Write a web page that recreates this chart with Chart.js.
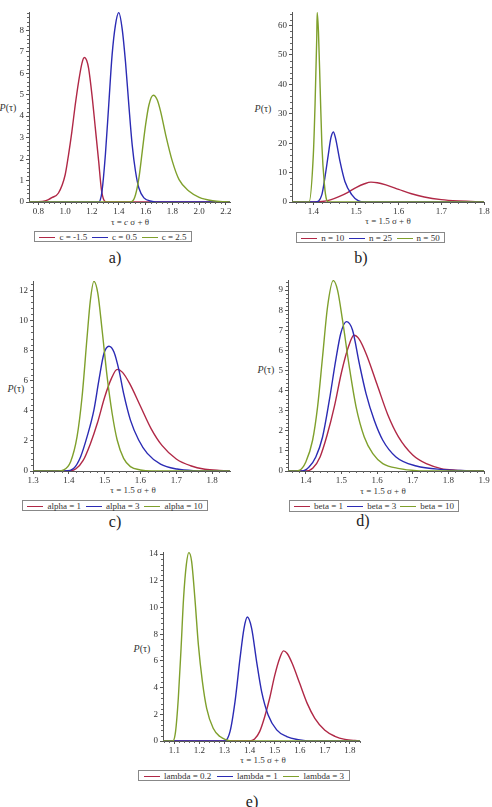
<!DOCTYPE html>
<html lang="en">
<head>
<meta charset="UTF-8" />
<title>P(tau) curves</title>
<script src="https://cdn.jsdelivr.net/npm/chart.js"></script>
<style>
  body { margin: 0; width: 492px; height: 807px; position: relative; background: #fff; font-family: "Liberation Serif", serif; overflow: hidden; }
  canvas { position: absolute; }
  .ylab, .xlab, .tag { position: absolute; transform: translate(-50%, -50%); white-space: nowrap; color: #333; }
  .ylab { font-size: 10px; }
  .xlab { font-size: 9px; }
  .tag { font-size: 16px; color: #222; }
  .legend { position: absolute; border: 1px solid #888; box-sizing: border-box; display: flex; align-items: center; justify-content: space-around; font-size: 9px; color: #333; padding: 0 2px; white-space: nowrap; }
  .legend .ln { display: inline-block; width: 16px; border-top: 1.5px solid; margin-right: 4px; vertical-align: middle; }
</style>
</head>
<body>

<div class="ylab" style="left:8px;top:107px"><i>P</i>(τ)</div>
<div class="ylab" style="left:263px;top:108px"><i>P</i>(τ)</div>
<div class="ylab" style="left:16px;top:388px"><i>P</i>(τ)</div>
<div class="ylab" style="left:266px;top:369px"><i>P</i>(τ)</div>
<div class="ylab" style="left:142px;top:648px"><i>P</i>(τ)</div>

<div class="xlab" style="left:130px;top:222px">τ = <i>c</i> σ + θ</div>
<div class="xlab" style="left:388px;top:221px">τ = 1.5 σ + θ</div>
<div class="xlab" style="left:133px;top:490px">τ = 1.5 σ + θ</div>
<div class="xlab" style="left:383px;top:491px">τ = 1.5 σ + θ</div>
<div class="xlab" style="left:263px;top:760px">τ = 1.5 σ + θ</div>

<div class="legend" id="leg-a" style="left:34px;top:231px;width:158px;height:11px"></div>
<div class="legend" id="leg-b" style="left:296px;top:232px;width:149px;height:11px"></div>
<div class="legend" id="leg-c" style="left:22px;top:500px;width:186px;height:11px"></div>
<div class="legend" id="leg-d" style="left:289px;top:500px;width:170px;height:12px"></div>
<div class="legend" id="leg-e" style="left:138px;top:770px;width:212px;height:11px"></div>

<div class="tag" style="left:115px;top:258px">a)</div>
<div class="tag" style="left:361px;top:258px">b)</div>
<div class="tag" style="left:115px;top:522px">c)</div>
<div class="tag" style="left:363px;top:521px">d)</div>
<div class="tag" style="left:252px;top:802px">e)</div>

<canvas id="ca"></canvas>
<canvas id="cb"></canvas>
<canvas id="cc"></canvas>
<canvas id="cd"></canvas>
<canvas id="ce"></canvas>

<script>
  const COLORS = ['#b02846', '#2b2bb4', '#7fa02c'];

  // the same base curve is the red one in b) to e)
  const baseX = [1.05, 1.40, 1.42, 1.44, 1.46, 1.48, 1.50, 1.52, 1.535, 1.55, 1.57, 1.60, 1.63, 1.66, 1.70, 1.74, 1.78, 1.82, 1.86, 1.90];
  const baseY = [0, 0, 0.15, 0.7, 1.8, 3.2, 4.9, 6.2, 6.75, 6.55, 5.8, 4.3, 2.8, 1.7, 0.8, 0.35, 0.12, 0.04, 0.01, 0];

  // a) c = -1.5, 0.5, 2.5
  const aLabels = ['c = -1.5', 'c = 0.5', 'c = 2.5'];
  const aRedX = [0.73, 0.8, 0.85, 0.875, 0.9, 0.95, 1.0, 1.025, 1.05, 1.075, 1.1, 1.125, 1.1425, 1.16, 1.175, 1.2, 1.225, 1.25, 1.27, 1.29, 1.31, 2.23];
  const aRedY = [0, 0.01, 0.05, 0.11, 0.2, 0.42, 1.27, 2.2, 3.28, 4.52, 5.6, 6.46, 6.73, 6.6, 6.22, 4.98, 3.44, 1.89, 0.6, 0.08, 0, 0];
  const aBlueX = [0.73, 1.25, 1.2625, 1.275, 1.3, 1.325, 1.35, 1.375, 1.4, 1.425, 1.45, 1.475, 1.5, 1.525, 1.55, 1.5875, 1.65, 1.7, 2.23];
  const aBlueY = [0, 0, 0.11, 0.5, 2.2, 4.52, 6.84, 8.24, 8.82, 8.08, 6.53, 4.52, 2.66, 1.42, 0.65, 0.19, 0.03, 0, 0];
  const aGreenX = [0.73, 1.48, 1.5, 1.525, 1.55, 1.575, 1.6, 1.625, 1.6575, 1.6875, 1.7125, 1.75, 1.8, 1.85, 1.925, 2.0, 2.1, 2.2, 2.23];
  const aGreenY = [0, 0, 0.03, 0.34, 1.11, 2.35, 3.59, 4.52, 4.97, 4.75, 4.21, 3.13, 1.89, 1.04, 0.5, 0.22, 0.06, 0.01, 0];

  // b) n = 10, 25, 50
  const bLabels = ['n = 10', 'n = 25', 'n = 50'];
  const bBlueX = [1.35, 1.405, 1.42, 1.427, 1.435, 1.441, 1.447, 1.452, 1.4625, 1.474, 1.49, 1.505, 1.52, 1.8];
  const bBlueY = [0, 0, 2.5, 8.2, 16, 21.7, 23.8, 21.7, 13.8, 7, 2.5, 0.45, 0, 0];
  const bGreenX = [1.35, 1.39, 1.4, 1.404, 1.408, 1.409, 1.412, 1.416, 1.42, 1.426, 1.431, 1.436, 1.8];
  const bGreenY = [0, 0, 16.1, 33, 55.7, 64.4, 58, 38.7, 19.5, 5.9, 0.8, 0, 0];

  // c) alpha = 1, 3, 10
  const cLabels = ['alpha = 1', 'alpha = 3', 'alpha = 10'];
  const cBlueX = [1.3, 1.39, 1.414, 1.433, 1.451, 1.47, 1.484, 1.498, 1.512, 1.526, 1.54, 1.553, 1.572, 1.595, 1.619, 1.656, 1.702, 1.749, 1.8, 1.85];
  const cBlueY = [0, 0, 0.18, 0.95, 2.28, 4.04, 6.03, 7.8, 8.29, 7.91, 6.7, 5.15, 3.38, 2.06, 1.17, 0.46, 0.13, 0.02, 0, 0];
  const cGreenX = [1.3, 1.37, 1.386, 1.405, 1.423, 1.437, 1.451, 1.46, 1.47, 1.481, 1.493, 1.507, 1.521, 1.535, 1.553, 1.572, 1.6, 1.63, 1.85];
  const cGreenY = [0, 0, 0.07, 0.62, 2.28, 4.93, 8.9, 11.3, 12.6, 11.8, 9.35, 6.25, 3.82, 2.06, 0.84, 0.29, 0.07, 0, 0];

  // d) beta = 1, 3, 10
  const dLabels = ['beta = 1', 'beta = 3', 'beta = 10'];
  const dBlueX = [1.35, 1.39, 1.409, 1.428, 1.447, 1.466, 1.484, 1.498, 1.514, 1.531, 1.55, 1.569, 1.592, 1.616, 1.653, 1.71, 1.785, 1.85, 1.9];
  const dBlueY = [0, 0, 0.2, 0.7, 1.69, 3.52, 5.51, 6.84, 7.43, 7.01, 5.35, 3.85, 2.52, 1.53, 0.7, 0.25, 0.07, 0.02, 0];
  const dGreenX = [1.35, 1.365, 1.381, 1.4, 1.419, 1.433, 1.447, 1.461, 1.477, 1.489, 1.503, 1.522, 1.541, 1.564, 1.588, 1.616, 1.663, 1.71, 1.76, 1.9];
  const dGreenY = [0, 0, 0.03, 0.45, 1.53, 3.19, 5.68, 8.17, 9.47, 9.0, 7.5, 5.18, 3.19, 1.69, 0.86, 0.37, 0.12, 0.02, 0, 0];

  // e) lambda = 0.2, 1, 3
  const eLabels = ['lambda = 0.2', 'lambda = 1', 'lambda = 3'];
  const eBlueX = [1.05, 1.3, 1.322, 1.342, 1.362, 1.378, 1.391, 1.408, 1.428, 1.448, 1.474, 1.508, 1.548, 1.594, 1.647, 1.85];
  const eBlueY = [0, 0, 0.7, 2.95, 6.2, 8.45, 9.28, 8.45, 5.95, 3.7, 1.95, 0.83, 0.33, 0.1, 0, 0];
  const eGreenX = [1.05, 1.094, 1.105, 1.116, 1.127, 1.137, 1.148, 1.158, 1.169, 1.182, 1.196, 1.212, 1.229, 1.255, 1.282, 1.308, 1.33, 1.85];
  const eGreenY = [0, 0, 0.7, 3.2, 6.95, 10.7, 13.2, 14.1, 13.45, 10.7, 7.2, 4.45, 2.45, 0.95, 0.33, 0.08, 0, 0];

  // plot rectangles (left, top, right, bottom) in page pixels
  const panels = [
    { id: 'ca', leg: 'leg-a', box: [29, 12, 230, 202], x: [0.73, 2.23, 0.2], y: [0, 8.85, 1], labels: aLabels,
      series: [[aRedX, aRedY], [aBlueX, aBlueY], [aGreenX, aGreenY]] },
    { id: 'cb', leg: 'leg-b', box: [292, 12, 484, 202], x: [1.35, 1.8, 0.1], y: [0, 64.6, 10], labels: bLabels,
      series: [[baseX, baseY], [bBlueX, bBlueY], [bGreenX, bGreenY]] },
    { id: 'cc', leg: 'leg-c', box: [33, 281, 230, 471], x: [1.3, 1.85, 0.1], y: [0, 12.62, 2], labels: cLabels,
      series: [[baseX, baseY], [cBlueX, cBlueY], [cGreenX, cGreenY]] },
    { id: 'cd', leg: 'leg-d', box: [288, 280, 484, 471], x: [1.35, 1.9, 0.1], y: [0, 9.5, 1], labels: dLabels,
      series: [[baseX, baseY], [dBlueX, dBlueY], [dGreenX, dGreenY]] },
    { id: 'ce', leg: 'leg-e', box: [163, 552, 360, 741], x: [1.055, 1.84, 0.1], y: [0, 14.15, 2], labels: eLabels,
      series: [[baseX, baseY], [eBlueX, eBlueY], [eGreenX, eGreenY]] }
  ];

  const PAD_TOP = 8, PAD_RIGHT = 10, Y_W = 30, X_H = 16;
  const tickFont = { family: 'Liberation Serif', size: 9 };

  // small minor ticks between the labelled ones
  const minorTicks = {
    id: 'minorTicks',
    afterDraw(chart) {
      const ctx = chart.ctx;
      const area = chart.chartArea;
      ctx.save();
      ctx.strokeStyle = '#666';
      ctx.lineWidth = 1;
      ['x', 'y'].forEach(key => {
        const sc = chart.scales[key];
        const ms = sc.options.ticks.stepSize / 5;
        const k0 = Math.ceil(sc.min / ms - 1e-6), k1 = Math.floor(sc.max / ms + 1e-6);
        for (let k = k0; k <= k1; k++) {
          if (k % 5 === 0) continue;
          const p = Math.round(sc.getPixelForValue(k * ms)) + 0.5;
          ctx.beginPath();
          if (key === 'x') { ctx.moveTo(p, area.bottom); ctx.lineTo(p, area.bottom + 2); }
          else { ctx.moveTo(area.left, p); ctx.lineTo(area.left - 2, p); }
          ctx.stroke();
        }
      });
      ctx.restore();
    }
  };

  function pts(xs, ys) {
    return xs.map((x, i) => ({ x, y: ys[i] }));
  }

  panels.forEach(p => {
    const [l, t, r, b] = p.box;
    const cv = document.getElementById(p.id);
    cv.width = r - l + Y_W + PAD_RIGHT;
    cv.height = b - t + PAD_TOP + X_H;
    cv.style.left = (l - Y_W) + 'px';
    cv.style.top = (t - PAD_TOP) + 'px';

    new Chart(cv, {
      type: 'line',
      data: {
        datasets: p.series.map((s, i) => ({
          label: p.labels[i],
          data: pts(s[0], s[1]),
          borderColor: COLORS[i],
          borderWidth: 1.4,
          pointRadius: 0,
          fill: false,
          cubicInterpolationMode: 'monotone',
          order: 2 - i
        }))
      },
      options: {
        responsive: false,
        animation: false,
        devicePixelRatio: 1,
        layout: { padding: { top: PAD_TOP, right: PAD_RIGHT, left: 0, bottom: 0 } },
        plugins: { legend: { display: false }, tooltip: { enabled: false } },
        scales: {
          x: {
            type: 'linear', min: p.x[0], max: p.x[1],
            afterFit: s => { s.height = X_H; },
            border: { color: '#555' },
            grid: { drawOnChartArea: false, tickLength: 3, color: '#555' },
            ticks: { stepSize: p.x[2], includeBounds: false, padding: 1, autoSkip: false, maxRotation: 0,
                     font: tickFont, color: '#333', callback: v => v.toFixed(1) }
          },
          y: {
            type: 'linear', min: p.y[0], max: p.y[1],
            afterFit: s => { s.width = Y_W; },
            border: { color: '#555' },
            grid: { drawOnChartArea: false, tickLength: 3, color: '#555' },
            ticks: { stepSize: p.y[2], includeBounds: false, padding: 2, autoSkip: false,
                     font: tickFont, color: '#333', callback: v => v.toFixed(0) }
          }
        }
      },
      plugins: [minorTicks]
    });

    const leg = document.getElementById(p.leg);
    leg.innerHTML = p.labels.map((lab, i) =>
      `<span><span class="ln" style="border-color:${COLORS[i]}"></span>${lab}</span>`).join('');
  });
</script>
</body>
</html>
